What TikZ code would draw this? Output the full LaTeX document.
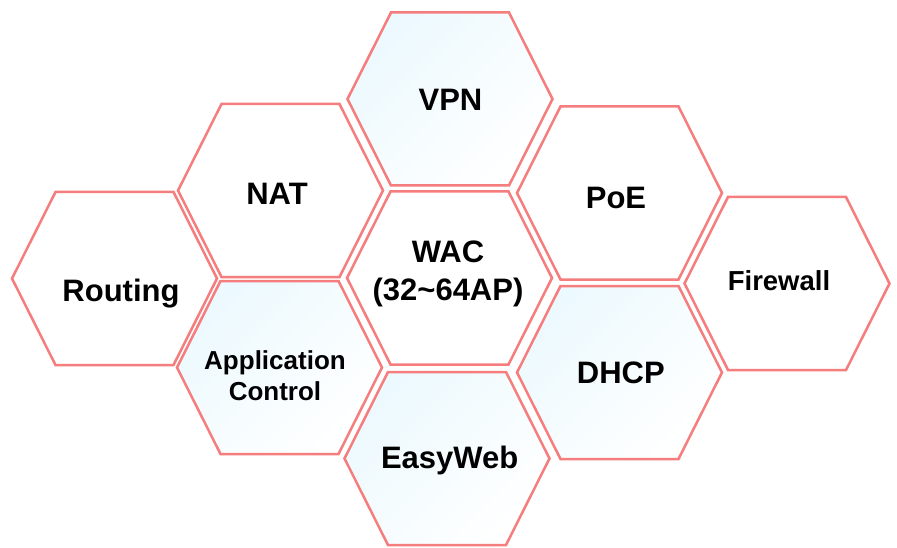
\documentclass[tikz,border=0pt]{standalone}
\usepackage{fontspec}
\setmainfont{Liberation Sans}

\definecolor{hexline}{RGB}{245,125,125}
\definecolor{hexblue}{RGB}{236,249,254}

\tikzset{
  hexcell/.style={draw=hexline, line width=2.5pt, line join=miter, fill=white},
  hexshade/.style={hexcell, top color=hexblue, bottom color=white, shading angle=45},
  lbl/.style={font=\bfseries\fontsize{31}{38}\selectfont, inner sep=0pt, anchor=base},
  smalllbl/.style={font=\bfseries\fontsize{26}{31}\selectfont, inner sep=0pt, anchor=base},
}

% hexagon around a named centre
\newcommand\hexcell[2]{\draw[#1] (#2) ++(-102.5,0) -- ++(43.5,-86.5) -- ++(118,0) -- ++(43.5,86.5) -- ++(-43.5,86.5) -- ++(-118,0) -- cycle;}

\begin{document}
\begin{tikzpicture}[x=1pt,y=-1pt]
                \useasboundingbox (0,0) rectangle (897,548);
                % centres
                \coordinate (vpn) at (450,99);
                \coordinate (nat) at (280.5,190.5);
                \coordinate (routing) at (114.5,278.5);
                \coordinate (appctl) at (279.5,367.5);
                \coordinate (wac) at (449.5,278);
                \coordinate (easyweb) at (447,458.5);
                \coordinate (poe) at (619.5,193);
                \coordinate (dhcp) at (619.5,372.5);
                \coordinate (firewall) at (787,283.5);
                % cells
                \hexcell{hexshade}{vpn}
                \hexcell{hexcell}{nat}
                \hexcell{hexcell}{routing}
                \hexcell{hexshade}{appctl}
                \hexcell{hexcell}{wac}
                \hexcell{hexshade}{easyweb}
                \hexcell{hexcell}{poe}
                \hexcell{hexshade}{dhcp}
                \hexcell{hexcell}{firewall}
                % labels
                \node[lbl] (vpntxt) at (450.5,111) {VPN};
                \node[lbl] (nattxt) at (277,205) {NAT};
                \node[lbl] (routingtxt) at (121,301.7) {Routing};
                \node[lbl] (poetxt) at (616,208.3) {PoE};
                \node[lbl] (dhcptxt) at (620.8,383.3) {DHCP};
                \node[lbl] (easywebtxt) at (449.7,468.3) {EasyWeb};
                \node[lbl, font=\bfseries\fontsize{27.5}{33}\selectfont] (firewalltxt) at (779,290) {Firewall};
                \node[lbl] (wactxt) at (448,262.3) {WAC};
                \node[lbl] (wacaptxt) at (448,300) {(32\char`\~64AP)};
                \node[smalllbl] (apptxt) at (275,369.3) {Application};
                \node[smalllbl] (ctltxt) at (275,400) {Control};
\end{tikzpicture}
\end{document}
